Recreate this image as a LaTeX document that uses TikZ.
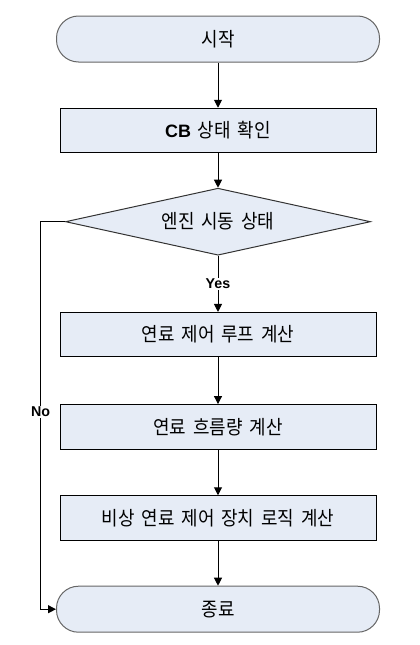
\documentclass[tikz,border=0pt]{standalone}
\usepackage{fontspec}
\usepackage{xcolor}
\setmainfont{Noto Sans CJK KR}[WordSpace=1.7,FakeStretch=0.92]
\newfontfamily\latin{Liberation Sans}[Scale=0.92]
\usetikzlibrary{shapes.geometric, arrows.meta, positioning}
\definecolor{boxfill}{RGB}{230,236,246}

\begin{document}
\begin{tikzpicture}[x=1pt,y=-1pt,line width=1pt,
    every node/.style={font=\fontsize{19.5}{22}\selectfont},
    term/.style={draw=black!60,fill=boxfill,rounded corners=22pt,minimum width=323pt,minimum height=46pt},
    proc/.style={draw=black,fill=boxfill,minimum width=316pt,minimum height=44.5pt},
    decide/.style={diamond,aspect=4.55,draw=black!80,fill=boxfill,inner sep=0pt,minimum width=305pt,minimum height=67pt},
    lbl/.style={fill=white,inner sep=1pt,font=\latin\bfseries\fontsize{15.5}{18}\selectfont},
    flow/.style={-{Triangle[width=8pt,length=8pt]}}]
        \useasboundingbox (0,0) rectangle (420,645);
        \begin{scope}
          \node[term] (start) at (218,39) {시작};
          \node[proc] (cb) at (218,130.5) {{\latin\bfseries CB} 상태 확인};
          \node[decide] (engine) at (218,221.7) {엔진 시동 상태};
          \node[proc] (loop) at (218,334.7) {연료 제어 루프 계산};
          \node[proc] (flowrate) at (218,426.8) {연료 흐름량 계산};
          \node[proc] (backup) at (218,518) {비상 연료 제어 장치 로직 계산};
          \node[term] (stop) at (218,609.2) {종료};
          \coordinate (nocorner) at (40.7,221.7);
          \coordinate (nobottom) at (40.7,609.2);
        \end{scope}
        \begin{scope}[every path/.style={draw=black}]
          \draw[flow] (start) -- (cb);
          \draw[flow] (cb) -- (engine);
          \draw[flow] (engine) -- node[lbl] {Yes} (loop);
          \draw[flow] (loop) -- (flowrate);
          \draw[flow] (flowrate) -- (backup);
          \draw[flow] (backup) -- (stop);
          \draw[flow] (engine.west) -- (nocorner) -- node[lbl,pos=0.49] {No} (nobottom) -- (stop.west);
        \end{scope}
      \end{tikzpicture}
\end{document}
